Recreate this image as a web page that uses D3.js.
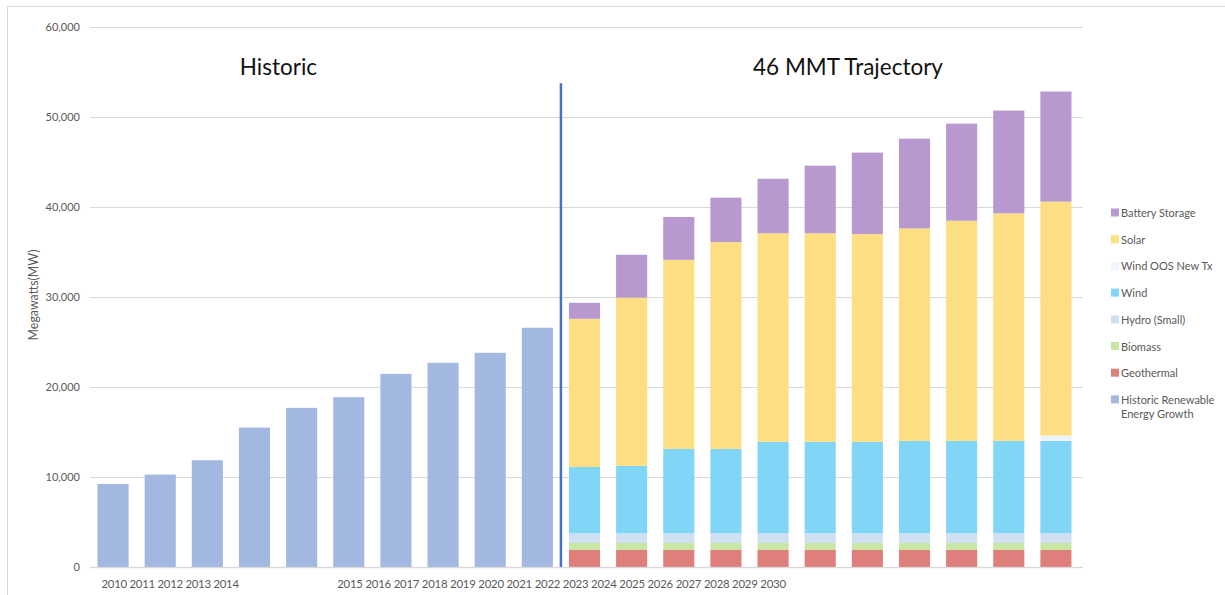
<!DOCTYPE html>
<html><head><meta charset="utf-8">
<script src="https://cdn.jsdelivr.net/npm/d3@7"></script>
<style>
html,body{margin:0;padding:0;background:#fff;}
svg{display:block;font-family:Lato,"Open Sans",sans-serif;}
</style></head>
<body><svg id="c" width="1225" height="595"></svg>
<script>
// ---- data ----
const years = ["2010","2011","2012","2013","2014","2015","2016","2017","2018","2019","2020",
               "2021","2022","2023","2024","2025","2026","2027","2028","2029","2030"];
const historic    = [9220,10260,11850,15480,17670,18850,21440,22670,23780,26560, 0,0,0,0,0,0,0,0,0,0,0];
const geothermal  = [0,0,0,0,0,0,0,0,0,0, 1890,1890,1890,1890,1890,1890,1890,1890,1890,1890,1890];
const biomass     = [0,0,0,0,0,0,0,0,0,0, 780,780,780,780,780,780,780,780,780,780,780];
const hydroSmall  = [0,0,0,0,0,0,0,0,0,0, 1070,1070,1070,1070,1070,1070,1070,1070,1070,1070,1070];
const wind        = [0,0,0,0,0,0,0,0,0,0, 7360,7480,9370,9370,10150,10150,10150,10260,10260,10260,10260];
const windOOS     = [0,0,0,0,0,0,0,0,0,0, 0,0,0,0,0,0,0,0,0,0,590];
const solar       = [0,0,0,0,0,0,0,0,0,0, 16460,18680,20990,22960,23150,23150,23070,23590,24440,25260,25970];
const battery     = [0,0,0,0,0,0,0,0,0,0, 1770,4760,4750,4930,6060,7510,9040,9960,10780,11410,12220];

const seriesNames = ["Historic Renewable Energy Growth","Geothermal","Biomass","Hydro (Small)","Wind","Wind OOS New Tx","Solar","Battery Storage"];
const seriesValues = [historic,geothermal,biomass,hydroSmall,wind,windOOS,solar,battery];
const seriesColors = ["#A2B8E0","#DF7F7C","#C9E6A4","#CFE0F2","#81D5F7","#EEF4FB","#FEDE82","#B798CF"];
const legendOrder = ["Battery Storage","Solar","Wind OOS New Tx","Wind","Hydro (Small)","Biomass","Geothermal","Historic Renewable Energy Growth"];

const yTicks = [0,10000,20000,30000,40000,50000,60000];
const xLabelRuns = [["2010","2011","2012","2013","2014"],
                    ["2015","2016","2017","2018","2019","2020","2021","2022","2023","2024","2025","2026","2027","2028","2029","2030"]];
const dividerAfter = "2019";
const dividerTop = 53700;
const sectionTitles = ["Historic","46 MMT Trajectory"];
const yTitle = "Megawatts(MW)";

// ---- layout ----
const svg = d3.select("#c");
const x = d3.scaleBand().domain(years).range([89.5,1079.5]).paddingInner(0.34).paddingOuter(0.17);
const y = d3.scaleLinear().domain([0,60000]).range([567,26.5]);

// frame
svg.append("path").attr("d","M7.5,595 L7.5,6.5 L1225,6.5").attr("fill","none").attr("stroke","#D9D9D9").attr("stroke-width",1);

// grid
svg.append("g").selectAll("line").data(yTicks).join("line")
  .attr("x1",90).attr("x2",1083).attr("y1",d=>Math.round(y(d))+0.5).attr("y2",d=>Math.round(y(d))+0.5)
  .attr("stroke","#D9D9D9").attr("stroke-width",1);

// y axis
const yAxis = svg.append("g").attr("transform","translate(90,0)")
  .call(d3.axisLeft(y).tickValues(yTicks).tickFormat(d3.format(",")).tickSize(0).tickPadding(10));
yAxis.select(".domain").remove();
yAxis.selectAll("text").attr("font-size","11px").attr("fill","#595959").attr("font-family","Lato,sans-serif");

svg.append("text").attr("transform","translate(38,295) rotate(-90)").attr("text-anchor","middle")
  .attr("font-size","12.4px").attr("fill","#595959").text(yTitle);

// stacked bars
const table = years.map((yr,i)=>{const o={year:yr}; seriesNames.forEach((n,j)=>o[n]=seriesValues[j][i]); return o;});
const stack = d3.stack().keys(seriesNames)(table);
svg.append("g").selectAll("g").data(stack).join("g")
  .attr("fill",(d,i)=>seriesColors[i])
  .selectAll("rect").data(d=>d.filter(p=>p[1]-p[0]>0)).join("rect")
  .attr("x",d=>x(d.data.year)).attr("width",x.bandwidth())
  .attr("y",d=>y(d[1])).attr("height",d=>y(d[0])-y(d[1]));

// baseline over bars
svg.append("line").attr("x1",90).attr("x2",1083).attr("y1",Math.round(y(0))+0.5).attr("y2",Math.round(y(0))+0.5)
  .attr("stroke","#D9D9D9").attr("stroke-opacity",0.7).attr("stroke-width",1.5);

// divider
const i0 = years.indexOf(dividerAfter);
const divX = (x(years[i0])+x.bandwidth()+x(years[i0+1]))/2;
svg.append("line").attr("x1",divX).attr("x2",divX).attr("y1",y(dividerTop)).attr("y2",y(0))
  .attr("stroke","#4472C4").attr("stroke-width",2.5);

// x labels (as in reference: runs of labels)
svg.append("g").selectAll("text").data(xLabelRuns).join("text")
  .attr("x",d=>x(d[0])+4).attr("y",588)
  .attr("font-size","11.4px").attr("fill","#595959")
  .attr("textLength",d=>d.length*28.3-4).attr("lengthAdjust","spacing")
  .text(d=>d.join(" "));

// section titles
svg.append("text").attr("x",278.5).attr("y",75).attr("text-anchor","middle").attr("font-size","22.5px").attr("fill","#111").text(sectionTitles[0]);
svg.append("text").attr("x",848).attr("y",75).attr("text-anchor","middle").attr("font-size","22.5px").attr("fill","#111").text(sectionTitles[1]);

// legend
const leg = svg.append("g").selectAll("g").data(legendOrder).join("g")
  .attr("transform",(d,i)=>`translate(1111,${213+i*26.7})`);
leg.append("rect").attr("x",0).attr("y",-4.5).attr("width",8).attr("height",8)
  .attr("fill",d=>seriesColors[seriesNames.indexOf(d)]);
leg.each(function(d){
  const t = d3.select(this).append("text").attr("x",10).attr("y",4).attr("font-size","11px").attr("fill","#595959");
  if(d.startsWith("Historic")){
    t.append("tspan").attr("x",10).text("Historic Renewable");
    t.append("tspan").attr("x",10).attr("dy",14).text("Energy Growth");
  } else t.text(d);
});
</script></body></html>
